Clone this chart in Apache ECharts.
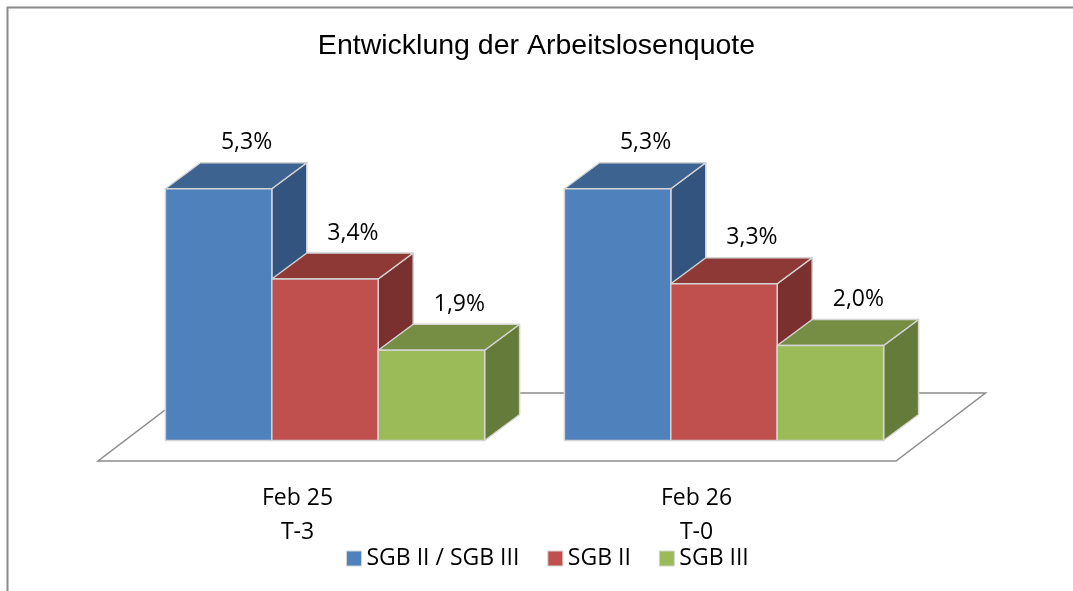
<!DOCTYPE html>
<html>
<head>
<meta charset="utf-8">
<script src="https://cdn.jsdelivr.net/npm/echarts@6/dist/echarts.min.js"></script>
<style>
html,body{margin:0;padding:0;background:#fff;}
#chart{width:1073px;height:591px;}
</style>
</head>
<body>
<div id="chart"></div>
<script>
// ---- data ----
const categories = ['Feb 25\nT-3', 'Feb 26\nT-0'];
const seriesNames = ['SGB II / SGB III', 'SGB II', 'SGB III'];
const sgbGesamt = [5.3, 5.3];
const sgbII = [3.4, 3.3];
const sgbIII = [1.9, 2.0];
const chartTitle = 'Entwicklung der Arbeitslosenquote';

// ---- style ----
const faceColors = [
  { front: '#4f81bd', top: '#3d6490', side: '#32547f' },
  { front: '#c0504d', top: '#8f3937', side: '#7a302e' },
  { front: '#9bbb59', top: '#758e43', side: '#657b39' }
];
const OFF_X = 27.5, OFF_Y = -20.5;   // bar front offset from floor front edge
const DX = 35, DY = -26;             // bar depth projection
const FLOOR_DX = 89.5, FLOOR_DY = -68;
const FONT = 'Open Sans';

function fmt(v) { return v.toFixed(1).replace('.', ',') + '%'; }

function makeBarRenderer(idx) {
  const c = faceColors[idx];
  return function (params, api) {
    const cat = api.value(0), val = api.value(1);
    const base = api.coord([cat, 0]);
    const top = api.coord([cat, val]);
    const band = api.size([1, 0])[0];
    const bw = band * 0.8 / 3;
    const x0 = base[0] - 1.5 * bw + idx * bw + OFF_X;
    const yb = base[1] + OFF_Y;
    const yt = top[1] + OFF_Y;
    const stroke = { stroke: '#d4d4d4', lineWidth: 1.5, lineJoin: 'round' };
    return {
      type: 'group',
      children: [
        { type: 'polygon', shape: { points: [[x0 + bw, yt], [x0 + bw + DX, yt + DY], [x0 + bw + DX, yb + DY], [x0 + bw, yb]] },
          style: Object.assign({ fill: c.side }, stroke) },
        { type: 'polygon', shape: { points: [[x0, yt], [x0 + DX, yt + DY], [x0 + bw + DX, yt + DY], [x0 + bw, yt]] },
          style: Object.assign({ fill: c.top }, stroke) },
        { type: 'rect', shape: { x: x0, y: yt, width: bw, height: yb - yt },
          style: Object.assign({ fill: c.front }, stroke) },
        { type: 'text', x: x0 + bw / 2 + 28, y: yt - 46,
          style: { text: fmt(val), fill: '#000', fontSize: 23, fontFamily: FONT, align: 'center', verticalAlign: 'middle' } }
      ]
    };
  };
}

function floorRenderer(params, api) {
  const cs = params.coordSys;
  const y0 = api.coord([0, 0])[1];
  const xl = cs.x, xr = cs.x + cs.width;
  return {
    type: 'polygon',
    shape: { points: [[xl, y0], [xr, y0], [xr + FLOOR_DX, y0 + FLOOR_DY], [xl + FLOOR_DX, y0 + FLOOR_DY]] },
    style: { fill: '#fff', stroke: '#8c8c8c', lineWidth: 1.5 }
  };
}

const valueSets = [sgbGesamt, sgbII, sgbIII];

const series = [{
  type: 'custom',
  name: 'floor',
  renderItem: floorRenderer,
  data: [[0, 0]],
  silent: true,
  z: 1
}].concat(valueSets.map((vals, i) => ({
  type: 'custom',
  name: seriesNames[i],
  renderItem: makeBarRenderer(i),
  itemStyle: { color: faceColors[i].front },
  data: vals.map((v, k) => [k, v]),
  z: 2 + i
})));

const chart = echarts.init(document.getElementById('chart'));
chart.setOption({
  animation: false,
  backgroundColor: '#fff',
  textStyle: { fontFamily: FONT },
  title: {
    text: chartTitle,
    left: 'center',
    top: 27,
    textStyle: { fontFamily: 'Liberation Sans', fontSize: 28.5, fontWeight: 'normal', color: '#000' }
  },
  graphic: [{
    type: 'rect',
    left: 5, top: 5,
    shape: { width: 1100, height: 620 },
    style: { fill: 'none', stroke: '#8a8a8a', lineWidth: 2 },
    silent: true
  }],
  legend: {
    data: seriesNames.map((n, i) => ({ name: n, itemStyle: { color: faceColors[i].front, borderColor: '#d4d4d4', borderWidth: 1 } })),
    left: 346,
    top: 547,
    padding: 0,
    icon: 'rect',
    itemWidth: 15,
    itemHeight: 15,
    itemGap: 28,
    textStyle: { fontFamily: FONT, fontSize: 23, color: '#000' }
  },
  grid: { left: 98, right: 177, top: 176, bottom: 130, containLabel: false },
  xAxis: {
    type: 'category',
    data: categories,
    axisLine: { show: false },
    axisTick: { show: false },
    axisLabel: { fontFamily: FONT, fontSize: 23, lineHeight: 34, color: '#000', margin: 20 }
  },
  yAxis: {
    type: 'value',
    min: 0, max: 6, interval: 1,
    show: false
  },
  series: series
});
</script>
</body>
</html>
